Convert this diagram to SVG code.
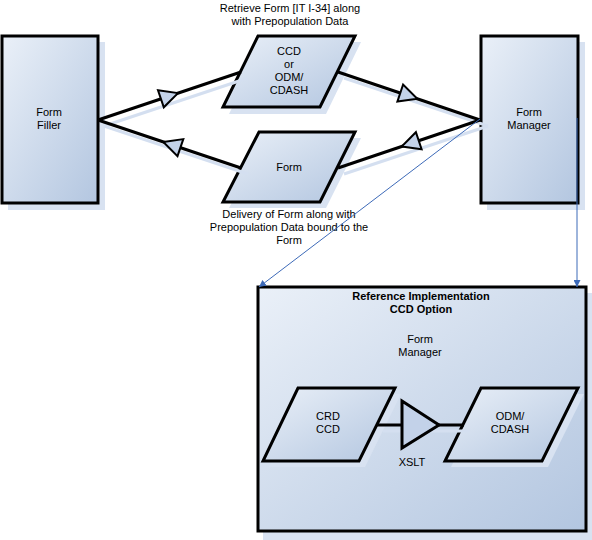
<svg xmlns="http://www.w3.org/2000/svg" width="592" height="540" viewBox="0 0 592 540">
<defs>
<linearGradient id="g" x1="0" y1="0" x2="1" y2="1">
<stop offset="0" stop-color="#eaf0f8"/>
<stop offset="1" stop-color="#b3c6e0"/>
</linearGradient>
<marker id="ba" viewBox="0 0 10 10" refX="10" refY="5" markerWidth="7" markerHeight="7" orient="auto" markerUnits="userSpaceOnUse">
<path d="M0,0 L10,5 L0,10 z" fill="#3d6ab8"/>
</marker>
<style>
.sh{fill:#d8e2f1;stroke:none}
.nd{fill:url(#g);stroke:#000;stroke-width:3}
.ln{stroke:#000;stroke-width:3;fill:none}
.lsh{stroke:#d4dff0;stroke-width:3;fill:none}
.ah{fill:#c3d2e9;stroke:#000;stroke-width:2;stroke-linejoin:miter}
.bl{stroke:#3d6ab8;stroke-width:1;fill:none}
text{font-family:"Liberation Sans",Arial,sans-serif;font-size:11px;fill:#000;text-anchor:middle}
.b{font-weight:bold}
</style>
</defs>
<rect width="592" height="540" fill="#fff"/>

<g id="label-retrieve">
<text x="290" y="12">Retrieve Form [IT I-34] along</text>
<text x="290" y="25">with Prepopulation Data</text>
</g>
<g id="label-delivery">
<text x="289" y="218">Delivery of Form along with</text>
<text x="289" y="231">Prepopulation Data bound to the</text>
<text x="289" y="244">Form</text>
</g>

<g id="form-filler">
<rect class="sh" x="8" y="42" width="97" height="168"/>
<rect class="nd" x="2" y="36" width="96" height="167"/>
<text x="49" y="116">Form</text>
<text x="49" y="129">Filler</text>
</g>

<g id="form-manager">
<rect class="sh" x="487" y="42" width="98" height="168"/>
<rect class="nd" x="481" y="36" width="97" height="167"/>
<text x="529" y="116">Form</text>
<text x="529" y="129">Manager</text>
</g>

<g id="ccd-odm">
<polygon class="sh" points="264,42 361,42 326,114 229,114"/>
<polygon class="nd" points="258,36 355,36 320,107 223,107"/>
<text x="289" y="55">CCD</text>
<text x="289" y="68">or</text>
<text x="289" y="81">ODM/</text>
<text x="289" y="94">CDASH</text>
</g>

<g id="form-doc">
<polygon class="sh" points="265,138 361,138 326,208 229,208"/>
<polygon class="nd" points="259,132 355,132 320,202 223,202"/>
<text x="289" y="171">Form</text>
</g>

<g id="ref-impl">
<rect class="sh" x="263" y="293" width="329" height="247"/>
<rect class="nd" x="258" y="287" width="328" height="244"/>
<text class="b" x="421" y="300">Reference Implementation</text>
<text class="b" x="421" y="313">CCD Option</text>
<text x="420" y="343">Form</text>
<text x="420" y="356">Manager</text>
</g>

<g id="crd-ccd">
<polygon class="sh" points="304,394 401,394 365,467 269,467"/>
<polygon class="nd" points="298,388 395,388 359,461 263,461"/>
<text x="328" y="420">CRD</text>
<text x="328" y="433">CCD</text>
</g>

<g id="odm-cdash">
<polygon class="sh" points="487,394 584,394 548,467 451,467"/>
<polygon class="nd" points="481,388 578,388 542,461 445,461"/>
<text x="510" y="420">ODM/</text>
<text x="510" y="433">CDASH</text>
</g>

<g id="connectors">
<line class="lsh" x1="104" y1="126" x2="248" y2="78"/>
<line class="lsh" x1="344" y1="78" x2="488" y2="126"/>
<line class="lsh" x1="488" y1="126" x2="344" y2="174"/>
<line class="lsh" x1="248" y1="174" x2="104" y2="126"/>
<line class="ln" x1="98" y1="120" x2="241" y2="72"/>
<line class="ln" x1="338" y1="72" x2="480" y2="120"/>
<line class="ln" x1="480" y1="120" x2="338" y2="168"/>
<line class="ln" x1="241" y1="168" x2="98" y2="120"/>
<polygon class="ah" points="178,93.1 163.8,107.3 158,90.3"/>
<polygon class="ah" points="417.3,98.8 397.4,101.6 403.1,84.5"/>
<polygon class="ah" points="401.7,146.5 421.6,149.3 415.9,132.2"/>
<polygon class="ah" points="163.3,141.9 183.3,139.1 177.5,156.1"/>
<line class="bl" x1="480" y1="119" x2="259" y2="287" marker-end="url(#ba)"/>
<line class="bl" x1="577" y1="118" x2="577" y2="287" marker-end="url(#ba)"/>
<line class="lsh" x1="383" y1="431" x2="470" y2="431"/>
<line class="ln" x1="377" y1="425" x2="402" y2="425"/>
<line class="ln" x1="439" y1="425" x2="464" y2="425"/>
</g>

<g id="xslt">
<polygon class="ah" points="402,401 402,448 439,425" style="stroke-width:3"/>
<text x="412" y="466">XSLT</text>
</g>
</svg>
